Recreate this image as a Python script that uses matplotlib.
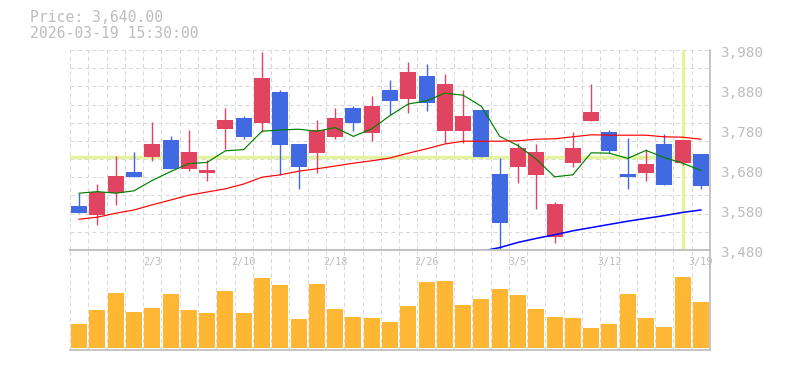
import numpy as np
import matplotlib.pyplot as plt
import matplotlib.transforms as mtransforms

# trading days (1/28 - 3/19, 2026)
dates = ["1/28", "1/29", "1/30", "2/2", "2/3", "2/4", "2/5", "2/6", "2/9", "2/10",
         "2/12", "2/13", "2/16", "2/17", "2/18", "2/19", "2/20", "2/24", "2/25", "2/26",
         "2/27", "3/2", "3/3", "3/4", "3/5", "3/6", "3/9", "3/10", "3/11", "3/12",
         "3/13", "3/16", "3/17", "3/18", "3/19"]

opens = [3590, 3568, 3622, 3675, 3713, 3755, 3683, 3673, 3783, 3810,
         3798, 3875, 3745, 3723, 3763, 3835, 3773, 3880, 3858, 3915,
         3778, 3778, 3830, 3670, 3688, 3668, 3513, 3698, 3803, 3775,
         3670, 3673, 3745, 3698, 3720]
highs = [3622, 3645, 3715, 3725, 3800, 3765, 3780, 3705, 3835, 3815,
         3975, 3880, 3745, 3805, 3835, 3840, 3865, 3905, 3950, 3945,
         3920, 3880, 3830, 3710, 3747, 3745, 3600, 3775, 3895, 3780,
         3760, 3732, 3770, 3755, 3720]
lows = [3572, 3543, 3593, 3662, 3703, 3683, 3678, 3653, 3732, 3758,
        3775, 3667, 3633, 3673, 3758, 3778, 3753, 3818, 3823, 3828,
        3748, 3748, 3713, 3476, 3648, 3583, 3498, 3688, 3803, 3723,
        3633, 3653, 3643, 3693, 3633]
closes = [3573, 3625, 3665, 3663, 3745, 3683, 3725, 3680, 3805, 3763,
          3910, 3743, 3688, 3780, 3810, 3798, 3840, 3853, 3925, 3848,
          3895, 3815, 3713, 3548, 3735, 3725, 3595, 3735, 3825, 3728,
          3663, 3695, 3643, 3755, 3640]

ma5 = [3622, 3626, 3622, 3628, 3654, 3676, 3696, 3699, 3728, 3731,
       3777, 3780, 3782, 3777, 3786, 3764, 3783, 3816, 3845, 3853,
       3872, 3867, 3839, 3764, 3741, 3707, 3663, 3668, 3723, 3722,
       3709, 3729, 3711, 3697, 3679]
ma25 = [3557, 3562, 3572, 3580, 3593, 3605, 3617, 3625, 3633, 3645,
        3662, 3668, 3677, 3683, 3690, 3697, 3703, 3710, 3722, 3733,
        3745, 3752, 3752, 3752, 3753, 3757, 3758, 3763, 3768, 3767,
        3767, 3767, 3763, 3762, 3757]
ma75 = [np.nan] * 22 + [3477, 3486, 3499, 3509, 3518, 3528, 3536, 3544,
                        3552, 3559, 3566, 3574, 3580]

volumes = [243, 383, 553, 363, 403, 543, 383, 353, 573, 353,
           703, 633, 293, 643, 393, 313, 303, 263, 423, 663,
           673, 433, 493, 593, 533, 393, 313, 303, 203, 243,
           543, 303, 213, 713, 463]

price_ticks = [3480, 3580, 3680, 3780, 3880, 3980]
label_idx = [4, 9, 14, 19, 24, 29, 34]

up_color = "#e04460"
down_color = "#4169e1"
grid_color = "#d9d9d9"
border_color = "#c0c0c0"
text_color = "#bdbdbd"
cross_color = "#e3f3a0"
mono = "DejaVu Sans Mono"

n = len(dates)
x = np.arange(n)

fig = plt.figure(figsize=(7.85, 3.7), dpi=100)
ax = fig.add_axes([70 / 785, 120 / 370, 640 / 785, 200 / 370])
vax = fig.add_axes([70 / 785, 20 / 370, 640 / 785, 100 / 370], sharex=ax)

ymin, ymax = 3480, 3980
ax.set_xlim(-0.5, n - 0.5)
ax.set_ylim(ymin, ymax)

# dashed grid
for k in range(n + 1):
    ax.axvline(k - 0.5, color=grid_color, lw=0.75, ls=(0, (4, 3)), zorder=0)
    vax.axvline(k - 0.5, color=grid_color, lw=0.75, ls=(0, (4, 3)), zorder=0)
for yv in np.linspace(ymin, ymax, 12):
    ax.axhline(yv, color=grid_color, lw=0.75, ls=(0, (4, 3)), zorder=0)

# crosshair
ax.axhline(3713, color=cross_color, lw=2.5, zorder=1)
ax.plot([33, 33], [3484, 3975], color=cross_color, lw=2.5, zorder=1)

# candles
w = 0.875
for i in range(n):
    o, h, l, c = opens[i], highs[i], lows[i], closes[i]
    col = up_color if c >= o else down_color
    ax.vlines(i, l, h, color=col, lw=1.0, zorder=2)
    ax.bar(i, abs(c - o), bottom=min(o, c), width=w, color=col, zorder=3)

# moving averages
ax.plot(x, ma5, color="#008000", lw=0.85, zorder=4)
ax.plot(x, ma25, color="#ff0000", lw=0.85, zorder=4)
ax.plot(x, ma75, color="#0000ff", lw=1.1, zorder=4)

# volume
vax.bar(x, volumes, width=w, color="#ffb733", zorder=2)
vax.set_ylim(-17, 983)

for a in (ax, vax):
    a.set_xticks([])
    a.set_yticks([])
    for s in a.spines.values():
        s.set_visible(False)
ax.spines["right"].set_visible(True)
ax.spines["bottom"].set_visible(True)
vax.spines["right"].set_visible(True)
vax.spines["top"].set_visible(True)
vax.spines["bottom"].set_visible(True)
for a in (ax, vax):
    for s in a.spines.values():
        s.set_color(border_color)
        s.set_linewidth(1.3)

# right price labels
trans = mtransforms.blended_transform_factory(ax.transAxes, ax.transData)
trans = mtransforms.offset_copy(trans, fig=fig, x=10, y=-3, units="dots")
for p in price_ticks:
    ax.text(1.0, p, f"{p:,}", transform=trans, ha="left", va="center",
            fontsize=10.3, color=text_color, family=mono, clip_on=False)

# date labels
vtrans = mtransforms.blended_transform_factory(vax.transData, vax.transAxes)
for i in label_idx:
    vax.text(i, 0.88, dates[i], transform=vtrans, ha="center", va="center",
             fontsize=7.3, color=text_color, family=mono)

fig.text(30 / 785, 1 - 18 / 370, "Price: 3,640.00", ha="left", va="center",
         fontsize=10.6, color=text_color, family=mono)
fig.text(30 / 785, 1 - 33 / 370, "2026-03-19 15:30:00", ha="left", va="center",
         fontsize=10.6, color=text_color, family=mono)

fig.savefig("out.png", dpi=100)
